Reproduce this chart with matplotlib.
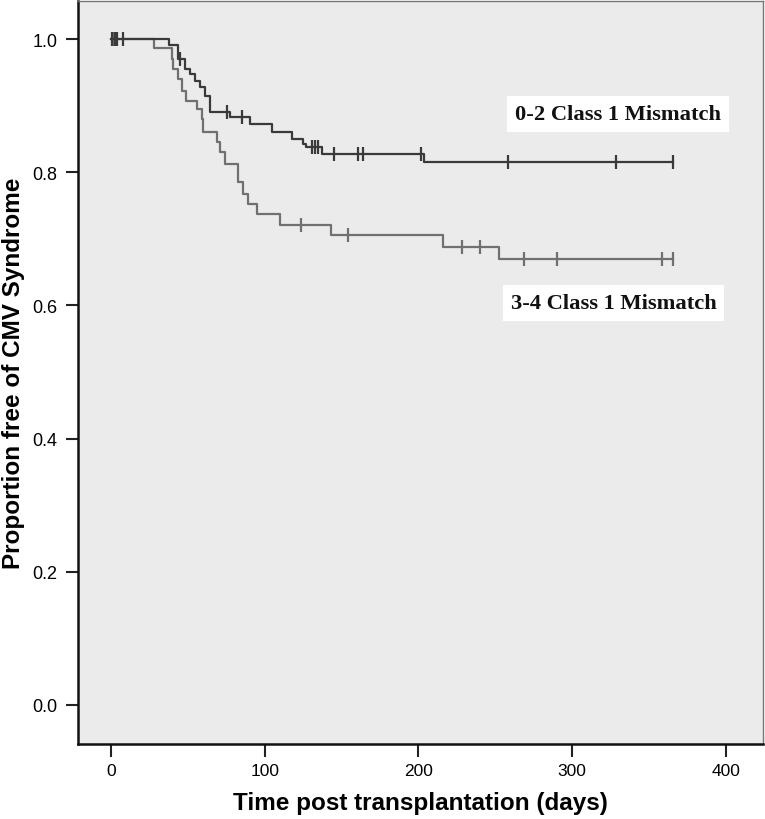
import numpy as np
import matplotlib
matplotlib.use("Agg")
import matplotlib.pyplot as plt

# Group 0-2 class 1 mismatch (darker curve)
a_event_days = [37.7, 43.6, 48, 51.4, 54.6, 58, 61, 64.4, 77.4, 90.4, 104.7,
                117.6, 124.7, 127, 137, 203.5]
a_survival = [0.991, 0.97, 0.955, 0.947, 0.937, 0.928, 0.914, 0.89, 0.883, 0.872,
              0.86, 0.85, 0.843, 0.838, 0.827, 0.816]
a_censor_days = [0.5, 2.6, 4, 7.8, 45, 75.5, 85, 130.5, 132.7, 134.6, 145, 160.5,
                 164, 201.5, 258, 328.6, 365.5]

# Group 3-4 class 1 mismatch (lighter curve)
b_event_days = [28, 39.5, 40.5, 43.8, 46, 49, 55.7, 59, 60, 68.8, 71, 74, 82.8,
                86, 89.3, 94.8, 110, 143, 216.3, 252.4]
b_survival = [0.986, 0.97, 0.955, 0.94, 0.922, 0.907, 0.895, 0.88, 0.86, 0.845,
              0.83, 0.812, 0.785, 0.767, 0.752, 0.737, 0.72, 0.705, 0.687, 0.67]
b_censor_days = [1, 3, 123.4, 154.4, 228.6, 240, 269, 290.4, 358.7, 365.5]

end_day = 365.5
x_ticks = [0, 100, 200, 300, 400]
y_ticks = [0.0, 0.2, 0.4, 0.6, 0.8, 1.0]
label_a = "0-2 Class 1 Mismatch"
label_b = "3-4 Class 1 Mismatch"
x_label = "Time post transplantation (days)"
y_label = "Proportion free of CMV Syndrome"


def km_steps(events, surv, end):
    xs = [0.0] + list(events) + [end]
    ys = [1.0] + list(surv) + [surv[-1]]
    return np.array(xs), np.array(ys)


def surv_at(t, events, surv):
    s = 1.0
    for e, v in zip(events, surv):
        if t >= e:
            s = v
    return s


fig = plt.figure(figsize=(7.65, 8.2), dpi=100)
ax = fig.add_axes([0.102, 0.0915, 0.895, 0.906])
ax.set_facecolor("#ebebeb")

col_a = "#3a3a3a"
col_b = "#707070"

xa, ya = km_steps(a_event_days, a_survival, end_day)
xb, yb = km_steps(b_event_days, b_survival, end_day)
ax.step(xb, yb, where="post", color=col_b, lw=1.6, zorder=3)
ax.step(xa, ya, where="post", color=col_a, lw=1.6, zorder=4)

ca_y = [surv_at(t, a_event_days, a_survival) for t in a_censor_days]
cb_y = [surv_at(t, b_event_days, b_survival) for t in b_censor_days]
ax.plot(b_censor_days, cb_y, ls="none", marker="|", ms=10, mew=1.6, color=col_b, zorder=3)
ax.plot(a_censor_days, ca_y, ls="none", marker="|", ms=10, mew=1.6, color=col_a, zorder=4)

ax.set_xlim(-21.5, 424)
ax.set_ylim(-0.0586, 1.057)
ax.set_xticks(x_ticks)
ax.set_yticks(y_ticks)
ax.set_yticklabels([f"{v:.1f}" for v in y_ticks])
ax.tick_params(axis="both", direction="out", length=9, width=1.5, color="#222222")
ax.tick_params(axis="x", labelsize=12.5, pad=5)
ax.tick_params(axis="y", labelsize=13, pad=6)
for lab in ax.get_xticklabels() + ax.get_yticklabels():
    lab.set_fontfamily(["Liberation Sans", "DejaVu Sans"])
for side in ["left", "bottom"]:
    ax.spines[side].set_linewidth(1.8)
    ax.spines[side].set_color("#111111")
for side in ["right", "top"]:
    ax.spines[side].set_linewidth(1.0)
    ax.spines[side].set_color("#777777")

ax.set_xlabel(x_label, fontsize=17.5, fontweight="bold",
              family=["Liberation Sans", "DejaVu Sans"], labelpad=9)
ax.set_ylabel(y_label, fontsize=17.5, fontweight="bold",
              family=["Liberation Sans", "DejaVu Sans"], labelpad=5)

for txt, (x0, y0) in [(label_a, (263, 0.887)), (label_b, (260, 0.6035))]:
    ax.text(x0, y0, txt, fontsize=16.2, fontweight="bold",
            family=["Liberation Serif", "DejaVu Serif"], color="#111111",
            va="center", ha="left", zorder=5,
            bbox=dict(boxstyle="square,pad=0.35", facecolor="white", edgecolor="none"))

fig.savefig("out.png", dpi=100, facecolor="white")
